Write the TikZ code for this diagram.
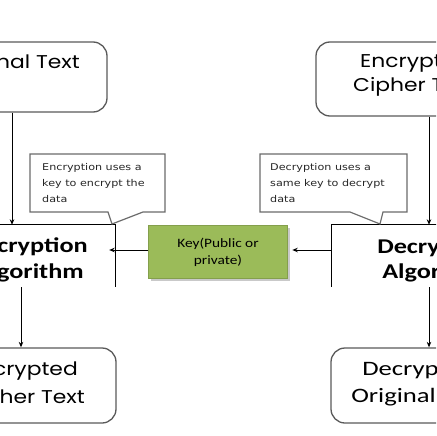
\documentclass[tikz,border=0pt]{standalone}
\usepackage{fontspec}
\newfontfamily\popf{Poppins}
\newfontfamily\carlf{Carlito}
\newfontfamily\dvsf{DejaVu Sans}
\usetikzlibrary{arrows.meta,shadows}
\definecolor{keygreen}{HTML}{9BBB59}
\definecolor{boxgray}{HTML}{5A5A5A}
\tikzset{
  rbox/.style={draw=boxgray, line width=1.3pt, rounded corners=14pt, fill=white, inner sep=0pt},
  algbox/.style={draw=none, inner sep=0pt},
  bigtxt/.style={font=\popf\fontsize{18.5}{22}\selectfont, inner sep=0pt, xscale=1.18},
  algtxt/.style={font=\carlf\bfseries\fontsize{21}{25}\selectfont, inner sep=0pt, xscale=1.25},
  dectxt/.style={font=\carlf\fontsize{20.5}{24}\selectfont, inner sep=0pt, xscale=1.3},
  calltxt/.style={font=\dvsf\fontsize{9.3}{16}\selectfont, inner sep=0pt, align=left, xscale=1.2, text=black!85},
  callout/.style={draw=boxgray!90, line width=1.2pt, fill=white},
  arr/.style={draw=black, line width=0.9pt, -{Stealth[length=5.5pt,width=4.5pt]}},
  keybox/.style={fill=keygreen, draw=keygreen!85!black, line width=0.6pt, inner sep=0pt,
     drop shadow={shadow xshift=2.5pt, shadow yshift=-2.5pt, fill=black!35, opacity=0.6}},
}
\begin{document}
\begin{tikzpicture}[x=1pt,y=-1pt]
\useasboundingbox (0,0) rectangle (436,436);
\fill[white] (0,0) rectangle (436,436);
\begin{scope}
\clip (0,0) rectangle (436,436);
% rounded boxes
\node[rbox, minimum width=187pt, minimum height=70pt] (tl) at (13.5,77) {};
\node[rbox, minimum width=224pt, minimum height=74pt] (tr) at (428,79) {};
\node[rbox, minimum width=216pt, minimum height=75pt] (bl) at (8,385.5) {};
\node[rbox, minimum width=209pt, minimum height=75pt] (br) at (435.5,385.5) {};
% algorithm boxes (top and inner side edges only)
\node[algbox, minimum width=215pt, minimum height=62pt] (encalg) at (7.5,256) {};
\node[algbox, minimum width=208pt, minimum height=62pt] (decalg) at (436,256) {};
\draw[black, line width=0.9pt] (encalg.north west) -- (encalg.north east) -- (encalg.south east);
\draw[black, line width=0.9pt] (decalg.north east) -- (decalg.north west) -- (decalg.south west);
% key box
\node[keybox, minimum width=139pt, minimum height=53pt] (key) at (217.5,251.5) {};
\node[font=\carlf\fontsize{12.8}{17}\selectfont, align=center, inner sep=0pt, xscale=1.2] (keytxt) at (218,252.5) {Key(Public or\\private)};
% callouts
\draw[callout] (143,212) -- (165,212) -- (165,154) -- (30,154) -- (30,212) -- (108,212) -- (112,224) -- cycle;
\draw[callout] (383,212) -- (407,212) -- (407,154) -- (260,154) -- (260,212) -- (350,212) -- (380,224) -- cycle;
\node[calltxt, anchor=north west] (enccall) at (42,163.5) {Encryption uses a\\key to encrypt the\\data};
\node[calltxt, anchor=north west] (deccall) at (270,163.5) {Decryption uses a\\same key to decrypt\\data};
% texts
\node[bigtxt, anchor=base east] (tlt) at (80,68) {Original Text};
\node[bigtxt, anchor=base west] (trt1) at (360,67) {Encrypted};
\node[bigtxt, anchor=base west] (trt2) at (353,91) {Cipher Text};
\node[algtxt, anchor=base east] (eat1) at (88,252) {Encryption};
\node[algtxt, anchor=base east] (eat2) at (84,278) {Algorithm};
\node[algtxt, anchor=base west] (dat1) at (377,253) {Decryption};
\node[algtxt, anchor=base west] (dat2) at (382,278) {Algorithm};
\node[bigtxt, anchor=base east] (blt1) at (78,375) {Encrypted};
\node[bigtxt, anchor=base east] (blt2) at (85,403) {Cipher Text};
\node[dectxt, anchor=base west] (brt1) at (362,375) {Decrypted};
\node[dectxt, anchor=base west] (brt2) at (351,402) {Original Text};
% connectors
\coordinate (cL1) at (12,0);
\coordinate (cL2) at (21,0);
\coordinate (cR) at (429,0);
\coordinate (cK) at (0,250);
\draw[arr] (tl.south -| cL1) -- (encalg.north -| cL1);
\draw[arr] (encalg.south -| cL2) -- (bl.north -| cL2);
\draw[arr] (tr.south -| cR) -- (decalg.north -| cR);
\draw[arr] (decalg.south -| cR) -- (br.north -| cR);
\draw[arr, shorten >=-6pt] (key.west |- cK) -- (encalg.east |- cK);
\draw[arr, shorten >=5pt] (decalg.west |- cK) -- (key.east |- cK);
\end{scope}
\end{tikzpicture}
\end{document}
